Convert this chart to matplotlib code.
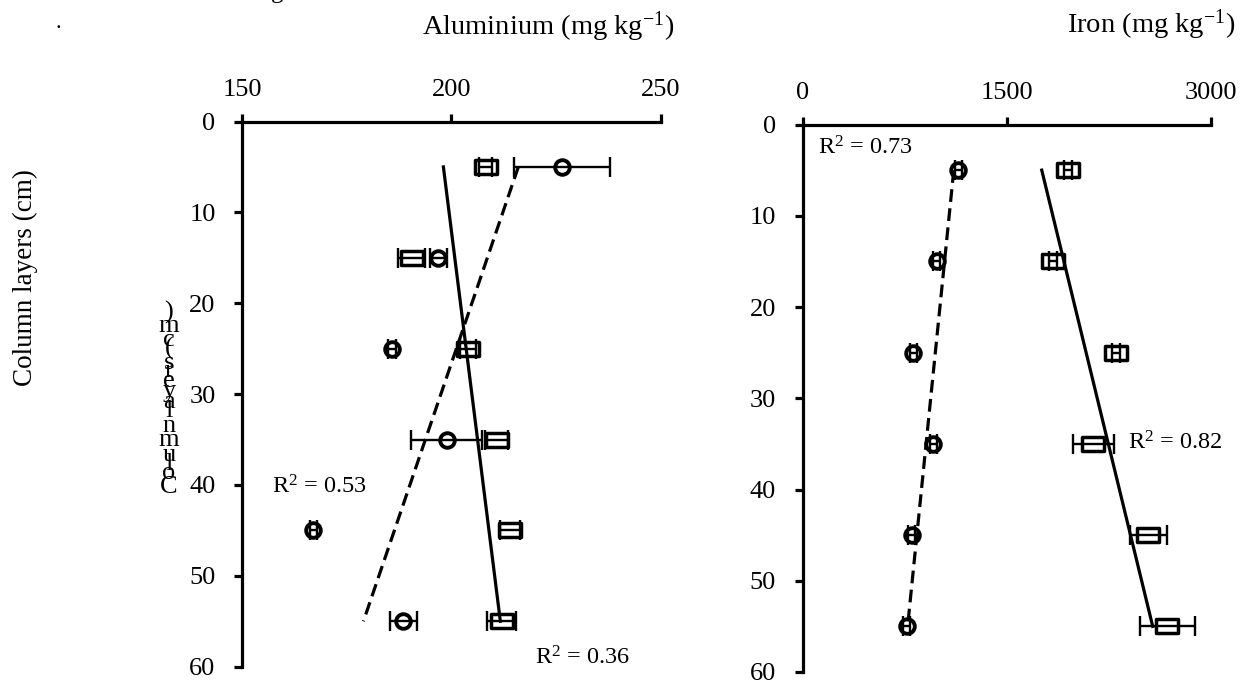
import matplotlib
matplotlib.use('Agg')
import matplotlib.pyplot as plt
from matplotlib.path import Path

plt.rcParams['font.family'] = ['Liberation Serif', 'DejaVu Serif']
plt.rcParams['mathtext.fontset'] = 'custom'
plt.rcParams['mathtext.rm'] = 'Liberation Serif'
plt.rcParams['mathtext.it'] = 'Liberation Serif:italic'

# ---------------- data ----------------
depth = [5, 15, 25, 35, 45, 55]

al_square = [208.2, 190.5, 204.0, 210.8, 214.0, 212.0]
al_square_err = [1.5, 3.2, 2.0, 2.8, 2.4, 3.4]
al_circle = [226.5, 196.9, 185.8, 198.9, 167.0, 188.5]
al_circle_err = [11.5, 2.0, 1.0, 8.5, 0.8, 3.2]

fe_square = [1952, 1842, 2302, 2136, 2540, 2679]
fe_square_err = [30, 30, 30, 150, 135, 202]
fe_circle = [1144, 985, 814, 961, 802, 765]
fe_circle_err = [25, 25, 25, 25, 25, 25]

trend_depth = [5, 55]
al_square_trend = [198.1, 211.7]
al_circle_trend = [216.0, 179.0]
fe_square_trend = [1757, 2572]
fe_circle_trend = [1111, 772]

al_ticks = [150, 200, 250]
fe_ticks = [0, 1500, 3000]
depth_ticks = [0, 10, 20, 30, 40, 50, 60]

r2_labels = ["0.53", "0.36", "0.73", "0.82"]
ylabel_text = "Column layers (cm)"

# ---------------- figure ----------------
W, H = 1244, 681
fig = plt.figure(figsize=(W / 100, H / 100), dpi=100)


def fx(px):
    return px / W


def fy(py):
    return 1 - py / H


ax1 = fig.add_axes([fx(242), fy(666.7), fx(660.7) - fx(242), fy(121.5) - fy(666.7)])
ax2 = fig.add_axes([fx(802.5), fy(672), fx(1211) - fx(802.5), fy(124.5) - fy(672)])

rect = Path([(-0.72, -0.5), (0.72, -0.5), (0.72, 0.5), (-0.72, 0.5), (-0.72, -0.5)], closed=True)

for ax, xlim, ticks in [(ax1, (150, 250), al_ticks), (ax2, (0, 3000), fe_ticks)]:
    ax.set_xlim(*xlim)
    ax.set_ylim(60, 0)
    ax.set_xticks(ticks)
    ax.set_yticks(depth_ticks)
    ax.xaxis.tick_top()
    for s in ['bottom', 'right']:
        ax.spines[s].set_visible(False)
    for s in ['top', 'left']:
        ax.spines[s].set_linewidth(2.3)
    ax.tick_params(axis='x', direction='out', length=6, width=2.3, pad=9, labelsize=19)
    ax.tick_params(axis='y', direction='out', length=6, width=2.3, pad=13, labelsize=19)
    ax.patch.set_alpha(0)


def draw_series(ax, x, err, marker, ms, mew):
    ax.errorbar(x, depth, xerr=err, fmt='none', ecolor='k', elinewidth=1.7,
                capsize=7.5, capthick=1.7, zorder=3, clip_on=False)
    ax.plot(x, depth, linestyle='none', marker=marker, ms=ms, mfc='none',
            mec='k', mew=mew, zorder=2, clip_on=False)


draw_series(ax1, al_square, al_square_err, rect, 15.5, 2.5)
draw_series(ax1, al_circle, al_circle_err, 'o', 10.5, 2.8)
draw_series(ax2, fe_square, fe_square_err, rect, 15.5, 2.5)
draw_series(ax2, fe_circle, fe_circle_err, 'o', 10.5, 2.8)

ax1.plot(al_square_trend, trend_depth, color='k', lw=2.3, zorder=4)
ax1.plot(al_circle_trend, trend_depth, color='k', lw=2.3, ls=(0, (4, 2)), zorder=4)
ax2.plot(fe_square_trend, trend_depth, color='k', lw=2.3, zorder=4)
ax2.plot(fe_circle_trend, trend_depth, color='k', lw=2.3, ls=(0, (4, 2)), zorder=4)

# axis titles
fig.text(fx(548), fy(27), r'Aluminium (mg kg$^{\mathregular{-1}}$)', ha='center', va='center', fontsize=20.5)
fig.text(fx(1151), fy(25), r'Iron (mg kg$^{\mathregular{-1}}$)', ha='center', va='center', fontsize=20.5)

# y label
fig.text(fx(25), fy(278), ylabel_text, rotation=90, ha='center', va='center', fontsize=19.5)

# stacked (garbled) vertical label
adv = {')': .333, 'm': .778, 'c': .444, '(': .333, ' ': .25, 's': .389, 'r': .333,
       'e': .444, 'y': .5, 'a': .444, 'l': .278, 'n': .5, 'u': .5, 'o': .5, 'C': .667}
pos = 0.0
em = 23.2
for ch in ylabel_text[::-1]:
    w = adv.get(ch, .5)
    if ch != ' ':
        fig.text(fx(169), fy(309 + (pos + w / 2) * em), ch, ha='center', va='center', fontsize=19)
    pos += w

# R^2 annotations
r2_pos = [(272, 487), (535, 658), (818, 148), (1128, 443)]
for lab, (px, py) in zip(r2_labels, r2_pos):
    fig.text(fx(px), fy(py), r'R$^{\mathregular{2}}$ = ' + lab, ha='left', va='center', fontsize=17.5)

# stray marks at top
fig.text(fx(58), fy(28), '.', ha='center', va='baseline', fontsize=16)
fig.text(fx(277), fy(-2), 'g', ha='center', va='baseline', fontsize=18)

fig.savefig('out.png', dpi=100)
